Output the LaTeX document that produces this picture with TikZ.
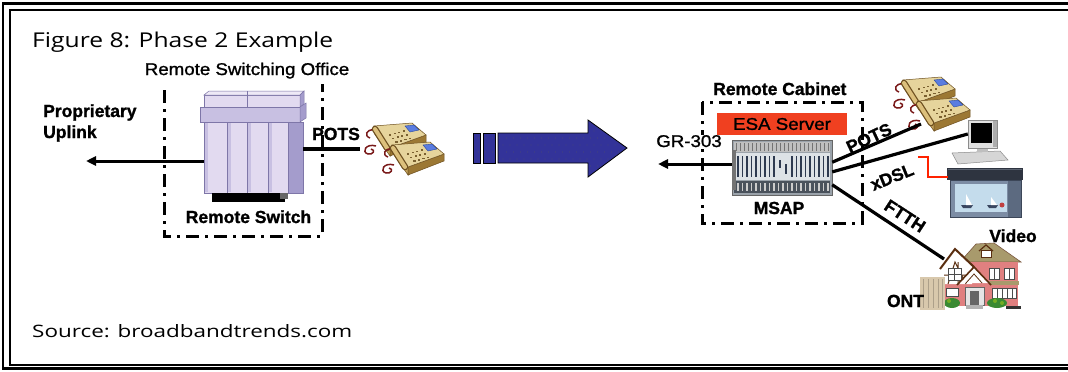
\documentclass[tikz,border=0pt]{standalone}
\usepackage{fontspec}
\setmainfont{Liberation Sans}
\newfontfamily\humfont{Open Sans}
\newfontfamily\medfont{Liberation Sans}[FakeBold=1.2,FakeStretch=1.1]
\newfontfamily\lblfamily{Liberation Sans}[BoldFeatures={FakeBold=1.3}]
\usetikzlibrary{arrows.meta,calc}

\definecolor{lavA}{HTML}{E2DAF0}
\definecolor{lavB}{HTML}{C8C0E2}
\definecolor{lavC}{HTML}{A49CCC}
\definecolor{lavD}{HTML}{7E76A8}
\definecolor{arrowblue}{HTML}{333399}
\definecolor{esared}{HTML}{F04020}
\definecolor{phtop}{HTML}{E6D49C}
\definecolor{phside}{HTML}{C4A45C}
\definecolor{phfront}{HTML}{9C7834}
\definecolor{phedge}{HTML}{6E5020}
\definecolor{phhand}{HTML}{DCC07C}
\definecolor{phdisp}{HTML}{5A7CE0}
\definecolor{phdispedge}{HTML}{2E4C9C}
\definecolor{phkey}{HTML}{7A6030}
\definecolor{cordred}{HTML}{7A1A1A}
\definecolor{msapframe}{HTML}{9AA2AA}
\definecolor{msaplight}{HTML}{DDE2E6}
\definecolor{msapslat}{HTML}{2E3A50}
\definecolor{msapdark}{HTML}{4A525C}
\definecolor{housepink}{HTML}{E08080}
\definecolor{houseroof}{HTML}{A89A6C}
\definecolor{timber}{HTML}{5A2E10}
\definecolor{bush}{HTML}{3A8A32}
\definecolor{ontbeige}{HTML}{D8C8AC}
\definecolor{redlink}{HTML}{FF2200}
\definecolor{tvrim}{HTML}{3C4658}
\definecolor{tvbody}{HTML}{7C8CA4}
\definecolor{tvscreen}{HTML}{C4DCEC}
\definecolor{tvside}{HTML}{5C6A80}
\definecolor{stbox}{HTML}{2E3440}
\definecolor{stboxhl}{HTML}{5A6270}
\definecolor{hull}{HTML}{3A4660}
\definecolor{sunred}{HTML}{C04040}

\newcommand\lblfont{\lblfamily\bfseries\fontsize{17.5}{20}\selectfont}
\newcommand\medlbl{\medfont\fontsize{17}{20}\selectfont}

\tikzset{
  lbl/.style={font=\lblfont, inner sep=0pt},
  medtext/.style={font=\medlbl, inner sep=0pt},
  dashdot/.style={line width=3pt, dash pattern=on 13pt off 6pt on 3pt off 6pt},
  wire/.style={line width=3.2pt},
  arr/.style={line width=3pt, -{Triangle[length=10pt,width=9pt]}},
  redwire/.style={redlink, line width=2.4pt},
  devbox/.style={inner sep=0pt, draw=none},
  cord/.style={cordred, line width=1.5pt},
  pics/phone/.style={code={
    % curly handset cords
    \draw[cord] (12,25) .. controls (2,22) and (-3,31) .. (4,33) .. controls (9,34) and (12,29) .. (7,28);
    \draw[cord] (10,9) .. controls (2,8) and (0,15) .. (6,17);
    % side and front faces
    \filldraw[fill=phside, draw=phedge, line width=.5pt] (10,5) -- (26,27) -- (26,35) -- (10,12) -- cycle;
    \filldraw[fill=phfront, draw=phedge, line width=.5pt] (26,27) -- (62,14) -- (62,21) -- (26,35) -- cycle;
    % top face
    \filldraw[fill=phtop, draw=phedge, line width=.5pt] (10,5) -- (48,2) -- (62,14) -- (26,27) -- cycle;
    % handset
    \draw[line width=6.5pt, line cap=round, phedge] (11,8) -- (23,27);
    \draw[line width=4pt, line cap=round, phhand] (11,8) -- (23,27);
    % display
    \filldraw[fill=phdisp, draw=phdispedge, line width=.4pt] (41,5) -- (50,4) -- (55,9) -- (46,11) -- cycle;
    % keypad
    \foreach \i in {0,...,3}{\foreach \j in {0,1,2}{
      \fill[phkey] ($(25,13)+\i*(4.5,-1.2)+\j*(3.2,3.6)$) rectangle ++(2.2,1.6);}}
  }}
}

\begin{document}
\begin{tikzpicture}[x=1pt,y=-1pt]
\useasboundingbox (0,0) rectangle (1068,372);
\clip (0,0) rectangle (1068,372);
\fill[white] (0,0) rectangle (1068,372);

% double frame
\draw[line width=2.6pt] (3,3.5) rectangle (1100,368.7);
\draw[line width=1.4pt] (9.8,10) rectangle (1100,365);

% headings
\node[anchor=base west, inner sep=0pt] (title) at (32,47)
  {\resizebox{301pt}{15.5pt}{\humfont Figure 8: Phase 2 Example}};
\node[anchor=base west, inner sep=0pt] (source) at (32,337)
  {\resizebox{320pt}{13pt}{\humfont Source: broadbandtrends.com}};

% ---------- remote switching office ----------
\node[medtext, anchor=base] (rsoffice) at (247,75) {Remote Switching Office};
\draw[dashdot] (164,90) -- (164,236) -- (322,236) -- (322,84);

\node[devbox, minimum width=99pt, minimum height=110pt] (rsw) at (253.5,147) {};
% cabinet lid
\filldraw[fill=lavA, draw=lavD, line width=.5pt] (204,95) rectangle (300,107);
\filldraw[fill=lavA!60!white, draw=lavD, line width=.5pt] (204,95) -- (209,91) -- (304,91) -- (300,95) -- cycle;
\draw[lavD, line width=.6pt] (247,91) -- (247,107);
\filldraw[fill=lavC, draw=lavD, line width=.5pt] (300,95) -- (304,91) -- (304,104) -- (300,107) -- cycle;
% cabinet band
\filldraw[fill=lavB, draw=lavD, line width=.5pt] (200,107) rectangle (300,122);
\filldraw[fill=lavC, draw=lavD, line width=.5pt] (300,107) -- (306,103) -- (306,118) -- (300,122) -- cycle;
% cabinet doors
\foreach \a/\b in {204/227,227/247,247/268,268/288}{
  \filldraw[fill=lavA, draw=lavD, line width=.6pt] (\a,122) rectangle (\b,193);
  \fill[lavB] (\a+1,123) rectangle (\a+4,192);
}
\filldraw[fill=lavC, draw=lavD, line width=.6pt] (288,122) rectangle (303,193);
% plinth
\fill[black] (212,193) rectangle (285,202);
\fill[black!60] (280,193) rectangle (288,199);

\node[lbl, anchor=base] (rswlabel) at (248.5,223) {Remote Switch};

% uplink
\node[lbl, anchor=base west] (prop) at (43,117) {Proprietary};
\node[lbl, anchor=base west] (uplinktext) at (43,138) {Uplink};
\coordinate (uplend) at (86,161);
\draw[arr] (rsw.west |- uplend) -- (uplend);

% POTS to the phones
\node[devbox, minimum width=85pt, minimum height=58pt] (lph) at (402.5,149) {};
\draw[wire] (rsw.east |- lph.west) -- (lph.west);
\node[lbl, anchor=base] (potsleft) at (336,140) {POTS};
\pic at (364,121) {phone};
\pic at (382,140) {phone};

% ---------- migration arrow ----------
\begin{scope}[fill=arrowblue, draw=black, line width=.8pt]
  \filldraw (473,133) rectangle (480,163);
  \filldraw (483,133) rectangle (495,163);
  \filldraw (498,133) -- (588,133) -- (588,120) -- (627,148) -- (588,177) -- (588,163) -- (498,163) -- cycle;
\end{scope}
% stipple on the arrow
\begin{scope}
  \clip (474,134) rectangle (479,162) (484,134) rectangle (494,162)
        (499,134) -- (589,134) -- (589,122) -- (625,148) -- (589,175) -- (589,162) -- (499,162) -- cycle;
  \foreach \y [count=\k] in {124,131,...,176}{
    \foreach \x in {475,482,...,626}{
      \fill[black!65] ({\x+3.5*mod(\k,2)},\y) circle (0.45pt);}}
\end{scope}

% ---------- remote cabinet ----------
\node[lbl, anchor=base west] (rcab) at (713,95) {Remote Cabinet};
\draw[dashdot] (702,102) rectangle (862,223);

\node[fill=esared, minimum width=130pt, minimum height=22pt, inner sep=0pt, font=\medlbl] (esa) at (782,124) {ESA Server};

% MSAP chassis
\node[devbox, minimum width=100pt, minimum height=55pt] (msap) at (782,167.5) {};
\filldraw[fill=msapframe, draw=black!60, line width=.6pt] (732,140) rectangle (832,195);
\fill[black!25] (734,142) rectangle (830,152);
\foreach \x in {736,740,...,828} \draw[black!55, line width=.8pt] (\x,143) -- (\x,151);
\fill[msaplight] (734,153) rectangle (830,180);
\foreach \x in {737,741.5,...,827} \fill[msapslat] (\x,156) rectangle ++(1.8,21);
\fill[msaplight] (776,153) rectangle (790,180);
\fill[msapslat] (779,160) rectangle ++(2,8);
\fill[msapslat] (785,164) rectangle ++(2,10);
\fill[msapdark] (734,181) rectangle (830,193);
\foreach \x in {737,741.5,...,827} \fill[black!20] (\x,183) rectangle ++(1.5,8);
\fill[black!55] (732,150) rectangle (736,190);

\node[lbl, anchor=base] (msaplabel) at (779,214) {MSAP};

% GR-303 uplink
\node[medtext, anchor=base, fill=white] (grtext) at (689,147) {GR-303};
\coordinate (gr) at (658,164);
\draw[arr] (msap.west |- gr) -- (gr);

% subscriber devices
\node[devbox, minimum width=85pt, minimum height=60pt] (rph) at (927.5,105) {};
\pic at (893,75) {phone};
\pic at (908,96) {phone};
\coordinate (rphport) at (921,124);

% computer
\node[devbox, minimum width=29pt, minimum height=28pt] (pc) at (982.5,134) {};
\filldraw[fill=black!16, draw=black!45, line width=.5pt] (952,153) -- (1000,151) -- (1008,160) -- (958,164) -- cycle;
\fill[black!25] (977,148) rectangle (988,152);
\filldraw[fill=black!12, draw=black!45, line width=.5pt] (968,120) rectangle (997,148);
\fill[black!32] (993,121) rectangle (997,147);
\fill[black] (971,123) rectangle (992,143);

% TV with set-top box
\node[devbox, minimum width=76pt, minimum height=50pt] (tv) at (985,193) {};
\fill[tvrim] (950,180) rectangle (1022,218);
\fill[tvbody] (951,181) rectangle (1021,217);
\fill[tvscreen] (955,184) rectangle (1007,212);
\fill[tvside] (1008,181) rectangle (1021,217);
\fill[stbox] (947,168) rectangle (1023,180);
\draw[stboxhl, line width=.8pt] (948,169.5) -- (1022,169.5);
\fill[hull] (961,205) -- (973,205) -- (971,208) -- (963,208) -- cycle;
\fill[white] (966,194) -- (966,205) -- (972,205) -- cycle;
\fill[hull] (987,205) -- (998,205) -- (996,208) -- (989,208) -- cycle;
\fill[white] (991,197) -- (991,205) -- (997,205) -- cycle;
\fill[sunred] (1002,205) circle (2.5pt);

% house and ONT
\node[devbox, minimum width=80pt, minimum height=69pt] (house) at (980,277.5) {};
\filldraw[fill=houseroof, draw=timber!80, line width=.6pt] (960,262) -- (976,244) -- (994,243) -- (1021,262) -- cycle;
\filldraw[fill=white, draw=timber, line width=.6pt] (981,250) rectangle (991,257);
\draw[timber, line width=1.2pt] (979,251) -- (986,245) -- (993,251);
\fill[housepink] (966,262) rectangle (1018,306);
\filldraw[fill=white, draw=black!70, line width=.6pt] (989,268) rectangle (999,279);
\filldraw[fill=white, draw=black!70, line width=.6pt] (1004,268) rectangle (1014,279);
\draw[black!70, line width=.5pt] (994,268) -- (994,279) (1009,268) -- (1009,279);
\fill[houseroof] (964,281) rectangle (1019,285);
\fill[housepink] (944,283) rectangle (990,306);
\filldraw[fill=white, draw=black!70, line width=.6pt] (992,288) rectangle (1016,298);
\foreach \x in {997,1002,1007,1012} \draw[black!70, line width=.6pt] (\x,288) -- (\x,298);
% tudor gable
\fill[white] (942,267) -- (955,250) -- (972,266) -- (972,284) -- (944,284) -- cycle;
\draw[timber, line width=1pt] (944,275) -- (972,275) (958,262) -- (958,284) (948,284) -- (955,262) -- (966,284);
\filldraw[fill=white, draw=black!70, line width=.6pt] (948,268) rectangle (961,280);
\draw[black!70, line width=.5pt] (954.5,268) -- (954.5,280) (948,274) -- (961,274);
\draw[timber, line width=2pt] (940,269) -- (955,249) -- (974,267);
% porch gable
\fill[white] (960,283) -- (974,268) -- (989,283) -- cycle;
\draw[timber, line width=.8pt] (966,283) -- (974,274) -- (982,283);
\draw[timber, line width=1.6pt] (957,285) -- (974,267) -- (991,285);
\filldraw[fill=black!10, draw=black!60, line width=.5pt] (965,287) rectangle (984,305);
\fill[black!60] (970,291) rectangle (979,305);
\filldraw[fill=white, draw=black!70, line width=.6pt] (946,288) rectangle (958,296);
\fill[black!30] (966,305) rectangle (983,309);
% shrubs
\fill[bush] (952,303) ellipse (8pt and 5pt);
\fill[bush] (997,303) ellipse (10pt and 5pt);
\fill[bush!70!yellow] (949,301) circle (2pt) (995,301) circle (2pt) (1002,303) circle (2pt);
\fill[black!80] (1006,306) rectangle (1021,309);
\coordinate (houseport) at (944,259);

% ONT box
\node[devbox, minimum width=25pt, minimum height=33pt] (ont) at (932.5,293.5) {};
\fill[ontbeige] (920,277) rectangle (945,310);
\foreach \x in {923,928,933,938,942} \draw[ontbeige!80!black, line width=.5pt] (\x,279) -- (\x,308);
\node[lbl, anchor=base] (ontlabel) at (905.5,307) {ONT};

% access links
\draw[wire] (msap.6) -- (rphport);
\draw[wire] (msap.-5) -- (pc.west);
\draw[wire] (msap.-19) -- (houseport);
\coordinate (redstart) at (918,157);
\coordinate (tvin) at (948,177);
\draw[redwire] (redstart) -- ++(10,0) |- (tvin);

\node[lbl, rotate=25] (potsright) at (869,138) {POTS};
\node[lbl, rotate=22] (xdsl) at (892,177) {xDSL};
\node[lbl, rotate=-33] (ftth) at (905,216) {FTTH};
\node[lbl, anchor=base] (videolabel) at (1013,242) {Video};

\end{tikzpicture}
\end{document}
